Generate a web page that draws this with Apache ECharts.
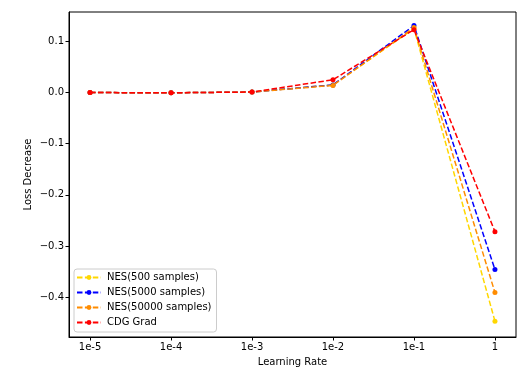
<!DOCTYPE html>
<html>
<head>
<meta charset="utf-8">
<script src="https://cdn.jsdelivr.net/npm/echarts@6/dist/echarts.min.js"></script>
<style>html,body{margin:0;padding:0;background:#fff;}#c{width:525px;height:374px;}</style>
</head>
<body>
<div id="c"></div>
<script>
const categories = ['1e-5', '1e-4', '1e-3', '1e-2', '1e-1', '1'];
const yTicks = [-0.4, -0.3, -0.2, -0.1, 0.0, 0.1];
const seriesNames = ['NES(500 samples)', 'NES(5000 samples)', 'NES(50000 samples)', 'CDG Grad'];
const nes500 = [0.0, -0.0005, 0.001, 0.015, 0.125, -0.447];
const nes5000 = [0.0, -0.0005, 0.001, 0.015, 0.131, -0.346];
const nes50000 = [0.0, -0.0005, 0.001, 0.014, 0.127, -0.391];
const cdg = [0.0, -0.0005, 0.001, 0.025, 0.123, -0.272];
const colors = ['#FFD700', '#0000FF', '#FF8C00', '#FF0000'];

const allData = [nes500, nes5000, nes50000, cdg];
const font = 'DejaVu Sans';
const fmtNum = v => {
  const s = Math.abs(v).toFixed(1);
  return (v < -1e-9 ? '\u2212' : '') + s;
};

const chart = echarts.init(document.getElementById('c'), null, {renderer: 'canvas'});
chart.setOption({
  animation: false,
  backgroundColor: '#fff',
  textStyle: {fontFamily: font},
  grid: {left: 69, right: 9, top: 12, bottom: 37, show: true, borderColor: '#000', borderWidth: 1, backgroundColor: 'transparent'},
  legend: {
    left: 74, top: 269, orient: 'vertical',
    backgroundColor: 'rgba(255,255,255,0.8)', borderColor: '#cccccc', borderWidth: 1, borderRadius: 3,
    padding: [3, 5, 4, 2], itemGap: 4, itemWidth: 24, itemHeight: 6,
    textStyle: {fontFamily: font, fontSize: 10, color: '#000', lineHeight: 11, padding: [0, 0, 0, 1]},
    data: seriesNames
  },
  xAxis: {
    type: 'value', min: -0.26, max: 5.26,
    name: 'Learning Rate', nameLocation: 'middle', nameGap: 20, nameMoveOverlap: false,
    nameTextStyle: {fontFamily: font, fontSize: 10, color: '#000'},
    axisLine: {show: true, onZero: false, lineStyle: {color: '#000', width: 1}},
    axisTick: {show: true, length: 3.5, lineStyle: {color: '#000'}, customValues: categories.map((c, i) => i)},
    axisLabel: {fontFamily: font, fontSize: 10, color: '#000', margin: 5,
      customValues: categories.map((c, i) => i),
      formatter: v => categories[Math.round(v)]},
    splitLine: {show: false}
  },
  yAxis: {
    type: 'value', min: -0.478, max: 0.1575,
    name: 'Loss Decrease', nameLocation: 'middle', nameGap: 36, nameMoveOverlap: false,
    nameTextStyle: {fontFamily: font, fontSize: 10, color: '#000'},
    axisLine: {show: true, onZero: false, lineStyle: {color: '#000', width: 1}},
    axisTick: {show: true, length: 3.5, lineStyle: {color: '#000'}, customValues: yTicks},
    axisLabel: {fontFamily: font, fontSize: 10, color: '#000', margin: 5,
      customValues: yTicks, formatter: v => fmtNum(v)},
    splitLine: {show: false}
  },
  series: seriesNames.map((name, k) => ({
    name: name, type: 'line',
    data: allData[k].map((v, i) => [i, v]),
    symbol: 'circle', symbolSize: 5, showSymbol: true,
    itemStyle: {color: colors[k]},
    lineStyle: {color: colors[k], width: 1.5, type: [5.5, 2.4]},
    z: 2 + k
  }))
});
</script>
</body>
</html>
